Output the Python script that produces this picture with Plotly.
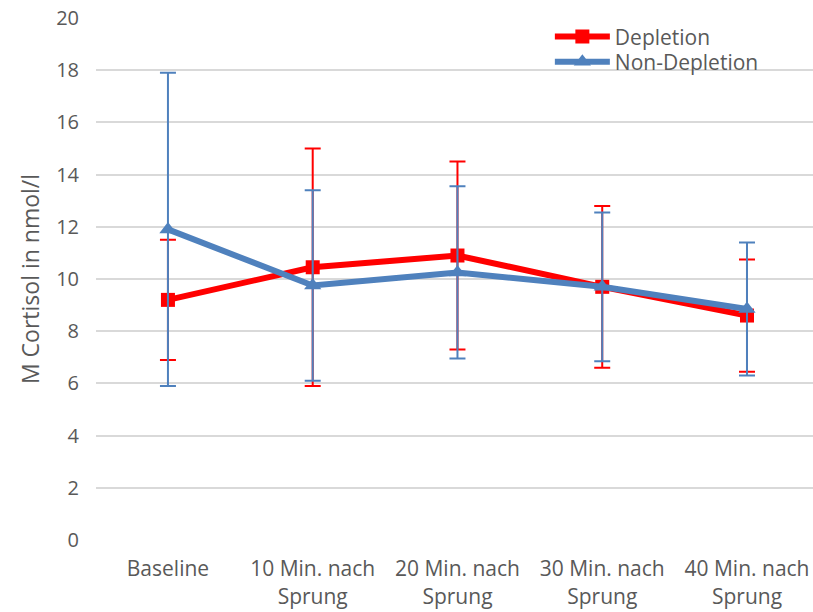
import plotly.graph_objects as go

categories = ["Baseline", "10 Min. nach<br>Sprung", "20 Min. nach<br>Sprung",
              "30 Min. nach<br>Sprung", "40 Min. nach<br>Sprung"]
depletion = [9.2, 10.45, 10.9, 9.7, 8.6]
depletion_err = [2.3, 4.55, 3.6, 3.1, 2.15]
non_depletion = [11.9, 9.75, 10.25, 9.7, 8.85]
non_depletion_err = [6.0, 3.65, 3.3, 2.85, 2.55]
y_ticks = [0, 2, 4, 6, 8, 10, 12, 14, 16, 18, 20]

RED = "#FF0000"
BLUE = "#4F81BD"
GRAY = "#595959"
FONT = "'Open Sans', Lato, sans-serif"

fig = go.Figure()
fig.add_trace(go.Scatter(
    x=categories, y=depletion, name="Depletion", mode="lines+markers",
    line=dict(color=RED, width=6),
    marker=dict(symbol="square", size=14, color=RED),
    error_y=dict(type="data", array=depletion_err, color=RED, thickness=2, width=8),
    legend="legend",
))
fig.add_trace(go.Scatter(
    x=categories, y=non_depletion, name="Non-Depletion", mode="lines+markers",
    line=dict(color=BLUE, width=6),
    marker=dict(symbol="triangle-up", size=15, color=BLUE),
    error_y=dict(type="data", array=non_depletion_err, color=BLUE, thickness=2, width=8),
    legend="legend2",
))

legend_common = dict(xanchor="left", yanchor="top", bgcolor="rgba(0,0,0,0)",
                     font=dict(size=21, color=GRAY), itemwidth=55)

fig.update_layout(
    width=813, height=612,
    margin=dict(l=96, r=0, t=18, b=72),
    paper_bgcolor="white", plot_bgcolor="white",
    font=dict(family=FONT, size=20, color=GRAY),
    showlegend=True,
    legend=dict(x=0.633, y=1.003, **legend_common),
    legend2=dict(x=0.633, y=0.955, **legend_common),
    xaxis=dict(type="category", range=[-0.497, 4.456], showgrid=False,
               zeroline=False, showline=False, ticks="outside", ticklen=10,
               tickcolor="rgba(0,0,0,0)", tickfont=dict(size=21, color=GRAY),
               automargin=False, ticklabeloverflow="allow"),
    yaxis=dict(range=[0, 20], tickvals=y_ticks, showgrid=True, gridcolor="#D9D9D9",
               gridwidth=2, zeroline=False, showline=False, ticks="outside",
               ticklen=12, tickcolor="rgba(0,0,0,0)",
               tickfont=dict(size=20, color=GRAY), automargin=False,
               ticklabeloverflow="allow",
               title=dict(text="M Cortisol in nmol/l", standoff=10,
                          font=dict(size=23, color=GRAY))),
)

fig.write_html("out.html",
               config={"displayModeBar": False},
               post_script="document.body.style.margin='0';"
                           "document.body.style.overflow='hidden';")
